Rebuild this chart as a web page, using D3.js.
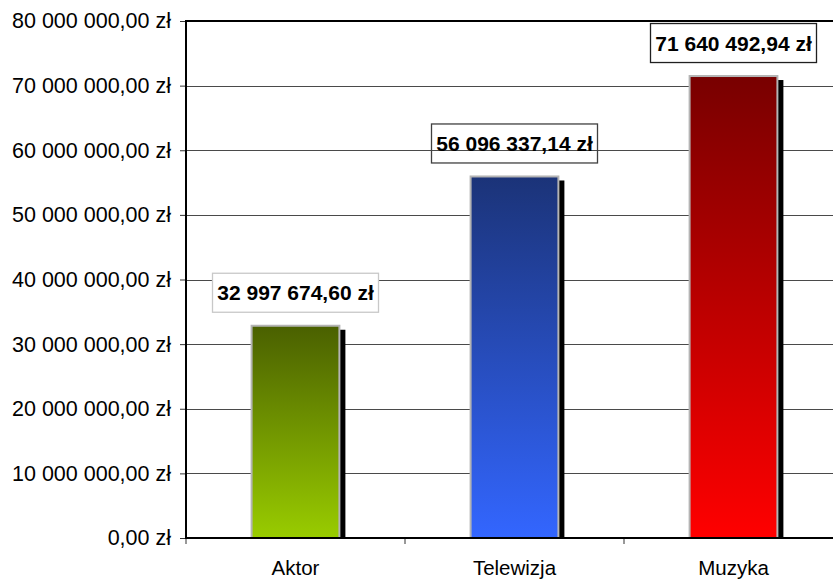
<!DOCTYPE html>
<html><head><meta charset="utf-8">
<script src="https://cdn.jsdelivr.net/npm/d3@7"></script>
<style>
html,body{margin:0;padding:0;background:#fff;}
svg{display:block;font-family:"Liberation Sans",Arial,sans-serif;}
</style></head>
<body>
<svg id="chart" width="833" height="579"></svg>
<script>
const categories = ["Aktor", "Telewizja", "Muzyka"];
const values = [32997674.60, 56096337.14, 71640492.94];
const colorsTop = ["#4a6000", "#1b3378", "#780000"];
const colorsBottom = ["#99cc00", "#3366ff", "#ff0000"];
const labelBorders = ["#c8c8c8", "#404040", "#202020"];
const labelFills = ["#ffffff", "none", "#ffffff"];
const yTicks = [0, 10000000, 20000000, 30000000, 40000000, 50000000, 60000000, 70000000, 80000000];

const plLocale = d3.formatLocale({decimal: ",", thousands: "\u00a0", grouping: [3], currency: ["", " zł"]});
const fmt = v => plLocale.format(",.2f")(v).replace(/\u00a0/g, " ") + " zł";

const svg = d3.select("#chart");
const pLeft = 186, pRight = 843, pTop = 21, pBottom = 538;

const y = d3.scaleLinear().domain([0, 80000000]).range([pBottom, pTop]);
const x = d3.scaleBand().domain(categories).range([pLeft, pRight]).paddingInner(0.59).paddingOuter(0.295);
const step = x.step();

const defs = svg.append("defs");
categories.forEach((c, i) => {
  const g = defs.append("linearGradient").attr("id", "g" + i)
    .attr("x1", 0).attr("y1", 0).attr("x2", 0).attr("y2", 1);
  g.append("stop").attr("offset", "0%").attr("stop-color", colorsTop[i]);
  g.append("stop").attr("offset", "100%").attr("stop-color", colorsBottom[i]);
});
defs.append("clipPath").attr("id", "plotclip").append("rect")
  .attr("x", pLeft).attr("y", pTop - 2).attr("width", pRight - pLeft).attr("height", pBottom - pTop + 2);

// gridlines
svg.append("g").selectAll("line").data(yTicks.filter(d => d > 0 && d < 80000000)).join("line")
  .attr("x1", pLeft).attr("x2", 833).attr("y1", d => Math.round(y(d)) + 0.5).attr("y2", d => Math.round(y(d)) + 0.5)
  .attr("stroke", "#4a4a4a").attr("stroke-width", 1);

// bars
const bars = svg.append("g").attr("clip-path", "url(#plotclip)");
bars.selectAll("rect.shadow").data(values).join("rect").attr("class", "shadow")
  .attr("x", (d, i) => x(categories[i]) + 5).attr("y", d => y(d) + 5)
  .attr("width", x.bandwidth()).attr("height", d => pBottom - y(d))
  .attr("fill", "#000");
bars.selectAll("rect.bar").data(values).join("rect").attr("class", "bar")
  .attr("x", (d, i) => x(categories[i]) + 1).attr("y", d => y(d) + 1)
  .attr("width", x.bandwidth() - 2).attr("height", d => pBottom - y(d) - 1)
  .attr("fill", (d, i) => "url(#g" + i + ")")
  .attr("stroke", "#b4b4b4").attr("stroke-width", 2);

// top frame line
svg.append("line").attr("x1", pLeft).attr("x2", 833).attr("y1", pTop).attr("y2", pTop)
  .attr("stroke", "#000").attr("stroke-width", 2);

// y axis
const yAxis = svg.append("g").attr("transform", `translate(${pLeft},0)`)
  .call(d3.axisLeft(y).tickValues(yTicks).tickSize(6).tickPadding(9).tickFormat(fmt));
yAxis.select(".domain").remove();
yAxis.selectAll(".tick line").attr("stroke", "#333");
yAxis.selectAll("text").attr("font-size", 21.5).attr("fill", "#000").attr("font-family", "Liberation Sans, Arial, sans-serif");
svg.append("line").attr("x1", pLeft).attr("x2", pLeft).attr("y1", pTop - 1).attr("y2", pBottom + 1)
  .attr("stroke", "#000").attr("stroke-width", 2);

// x axis
const boundaries = d3.range(categories.length + 1).map(i => pLeft + i * step);
svg.append("g").selectAll("line").data(boundaries).join("line")
  .attr("x1", d => d).attr("x2", d => d).attr("y1", pBottom).attr("y2", pBottom + 6)
  .attr("stroke", "#333").attr("stroke-width", 1);
svg.append("line").attr("x1", pLeft - 1).attr("x2", 833).attr("y1", pBottom).attr("y2", pBottom)
  .attr("stroke", "#000").attr("stroke-width", 2);
svg.append("g").selectAll("text").data(categories).join("text")
  .attr("x", d => x(d) + x.bandwidth() / 2).attr("y", 575)
  .attr("text-anchor", "middle").attr("font-size", 20.5).attr("fill", "#000")
  .text(d => d);

// value labels
const lbl = svg.append("g").selectAll("g").data(values).join("g")
  .attr("transform", (d, i) => `translate(${x(categories[i]) + x.bandwidth() / 2},${y(d) - 12.5})`);
lbl.append("rect").attr("x", -83).attr("y", -39).attr("width", 166).attr("height", 39)
  .attr("fill", (d, i) => labelFills[i]).attr("stroke", (d, i) => labelBorders[i]).attr("stroke-width", 1.3);
lbl.append("text").attr("x", 0).attr("y", -12).attr("text-anchor", "middle")
  .attr("font-size", 21).attr("font-weight", "bold").attr("fill", "#000")
  .text(d => fmt(d));
</script>
</body></html>
